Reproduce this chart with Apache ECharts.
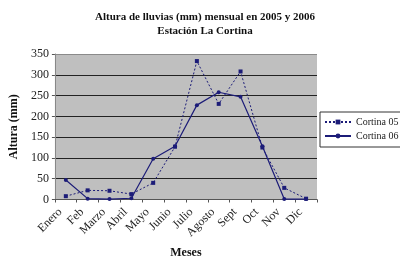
<!DOCTYPE html>
<html>
<head>
<meta charset="utf-8">
<script src="https://cdn.jsdelivr.net/npm/echarts@6/dist/echarts.min.js"></script>
<style>html,body{margin:0;padding:0;background:#fff}#c{width:400px;height:265px}</style>
</head>
<body>
<div id="c"></div>
<script>
const months = ['Enero','Feb','Marzo','Abril','Mayo','Junio','Julio','Agosto','Sept','Oct','Nov','Dic'];
const cortina05 = [8, 22, 21, 13, 40, 127, 333, 230, 308, 125, 28, 2];
const cortina06 = [47, 2, 1, 3, 98, 128, 227, 258, 247, 128, 1, 1];
const yTicks = [0, 50, 100, 150, 200, 250, 300, 350];

const serif = '"Liberation Serif", "DejaVu Serif", serif';
const lineColor = '#1c1c78';
const gridColors = yTicks.map((v, i) => i === yTicks.length - 1 ? '#8a8a8a' : '#222');
const chart = echarts.init(document.getElementById('c'));
chart.setOption({
  animation: false,
  title: {
    text: 'Altura de lluvias (mm) mensual en 2005 y 2006\nEstación La Cortina',
    left: 200, top: 5, textAlign: 'center',
    textStyle: { fontFamily: serif, fontWeight: 'bold', fontSize: 11, lineHeight: 14, color: '#111' }
  },
  legend: {
    orient: 'vertical', left: 320, top: 112,
    itemWidth: 26, itemHeight: 6, itemGap: 4,
    padding: [5, 12, 6, 4],
    borderColor: '#333', borderWidth: 1,
    textStyle: { fontFamily: serif, fontSize: 10, color: '#222' },
    data: ['Cortina 05', 'Cortina 06']
  },
  grid: {
    left: 49, right: 83, top: 54, bottom: 65.5,
    show: true, backgroundColor: '#bfbfbf', borderWidth: 0
  },
  xAxis: {
    type: 'category', data: months, boundaryGap: true,
    name: 'Meses', nameLocation: 'middle', nameGap: 47,
    nameTextStyle: { fontFamily: serif, fontWeight: 'bold', fontSize: 12, color: '#111' },
    axisLine: { lineStyle: { color: '#555' } },
    axisTick: { show: true, length: 3, interval: 0, lineStyle: { color: '#555' } },
    axisLabel: {
      rotate: 45, interval: 0, hideOverlap: false, fontFamily: serif, fontSize: 12,
      color: '#222', margin: 5, padding: [0, 8, 0, 0]
    },
    splitLine: { show: false }
  },
  yAxis: {
    type: 'value', min: 0, max: 350, interval: 50,
    name: 'Altura (mm)', nameLocation: 'middle', nameGap: 32,
    nameTextStyle: { fontFamily: serif, fontWeight: 'bold', fontSize: 12, color: '#111' },
    axisLine: { show: true, lineStyle: { color: '#888' } },
    axisTick: { show: true, length: 3, lineStyle: { color: '#555' } },
    axisLabel: {
      fontFamily: serif, fontSize: 12, color: '#222', margin: 6,
      formatter: v => yTicks.includes(v) ? String(v) : ''
    },
    splitLine: { show: true, lineStyle: { color: gridColors, width: 1 } }
  },
  series: [
    {
      name: 'Cortina 05', type: 'line', data: cortina05,
      symbol: 'rect', symbolSize: 4,
      lineStyle: { color: lineColor, width: 1, type: [2, 2] },
      itemStyle: { color: lineColor }
    },
    {
      name: 'Cortina 06', type: 'line', data: cortina06,
      symbol: 'circle', symbolSize: 4,
      lineStyle: { color: lineColor, width: 1.2 },
      itemStyle: { color: lineColor }
    }
  ]
});
</script>
</body>
</html>
